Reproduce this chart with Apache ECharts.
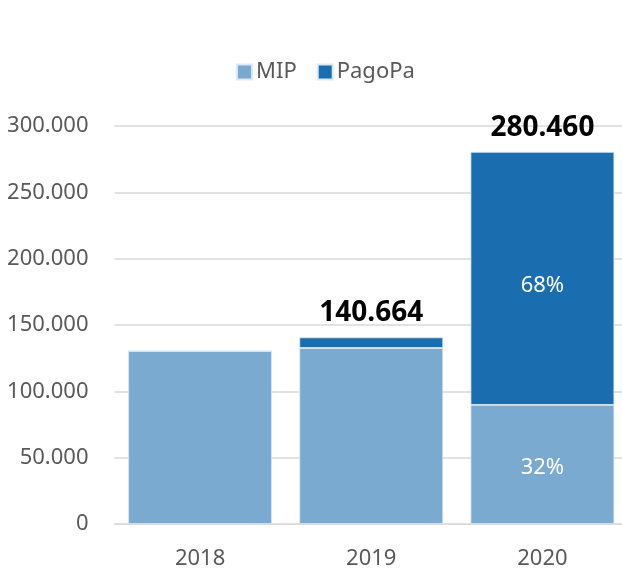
<!DOCTYPE html>
<html><head><meta charset="utf-8">
<script src="https://cdn.jsdelivr.net/npm/echarts@6/dist/echarts.min.js"></script>
<style>html,body{margin:0;padding:0;background:#fff;overflow:hidden;width:622px;height:574px}#c{width:628px;height:574px}</style>
</head><body><div id="c"></div>
<script>
const categories = ['2018', '2019', '2020'];
const mipValues = [130400, 132660, 89750];
const pagoPaValues = [0, 8004, 190710];
const totalLabels = [null, 140664, 280460];
const percentShown = [false, false, true];
const yTicks = [0, 50000, 100000, 150000, 200000, 250000, 300000];

function fmt(v) { return String(Math.round(v)).replace(/\B(?=(\d{3})+(?!\d))/g, '.'); }
const totals = mipValues.map((v, i) => v + pagoPaValues[i]);
const font = 'Noto Sans';

const chart = echarts.init(document.getElementById('c'), null, {renderer: 'canvas'});
chart.setOption({
  animation: false,
  textStyle: {fontFamily: font},
  legend: {
    data: ['MIP', 'PagoPa'],
    top: 61, left: 236, padding: 0,
    itemWidth: 15, itemHeight: 15, itemGap: 20,
    icon: 'rect',
    textStyle: {fontSize: 22, color: '#595959', fontFamily: font, padding: [0, 0, 0, -1]}
  },
  grid: {left: 114.5, right: 0, top: 126, height: 398, containLabel: false},
  xAxis: {
    type: 'category', data: categories,
    axisLine: {show: true, lineStyle: {color: '#d9d9d9', width: 1}},
    axisTick: {show: false},
    axisLabel: {fontSize: 22, color: '#595959', margin: 24, fontFamily: font}
  },
  yAxis: {
    type: 'value', min: 0, max: 300000, interval: 50000,
    axisLine: {show: false}, axisTick: {show: false},
    splitLine: {lineStyle: {color: '#d9d9d9', width: 1.5}},
    axisLabel: {fontSize: 22, color: '#595959', margin: 26, fontFamily: font, formatter: v => fmt(v)}
  },
  series: [
    {
      name: 'MIP', type: 'bar', stack: 't', barCategoryGap: '16%',
      itemStyle: {color: '#7BAAD0', borderColor: '#dce8f3', borderWidth: 0.8},
      data: mipValues,
      label: {show: true, position: 'inside', offset: [0, 3], color: '#fff', fontSize: 22, fontFamily: font,
        formatter: p => percentShown[p.dataIndex] ? Math.round(p.value / totals[p.dataIndex] * 100) + '%' : ''}
    },
    {
      name: 'PagoPa', type: 'bar', stack: 't',
      itemStyle: {color: '#1A6EAF', borderColor: '#dce8f3', borderWidth: 0.8},
      data: pagoPaValues,
      label: {show: true, position: 'inside', offset: [0, 7], color: '#fff', fontSize: 22, fontFamily: font,
        formatter: p => percentShown[p.dataIndex] ? Math.round(p.value / totals[p.dataIndex] * 100) + '%' : ''}
    },
    {
      name: 'Totale', type: 'bar', stack: 't',
      itemStyle: {color: 'transparent'},
      data: totalLabels.map(() => 0),
      label: {show: true, position: 'top', distance: 10, color: '#000', fontSize: 28, fontWeight: 'bold', fontFamily: font,
        formatter: p => totalLabels[p.dataIndex] == null ? '' : fmt(totalLabels[p.dataIndex])}
    }
  ]
});
</script></body></html>
